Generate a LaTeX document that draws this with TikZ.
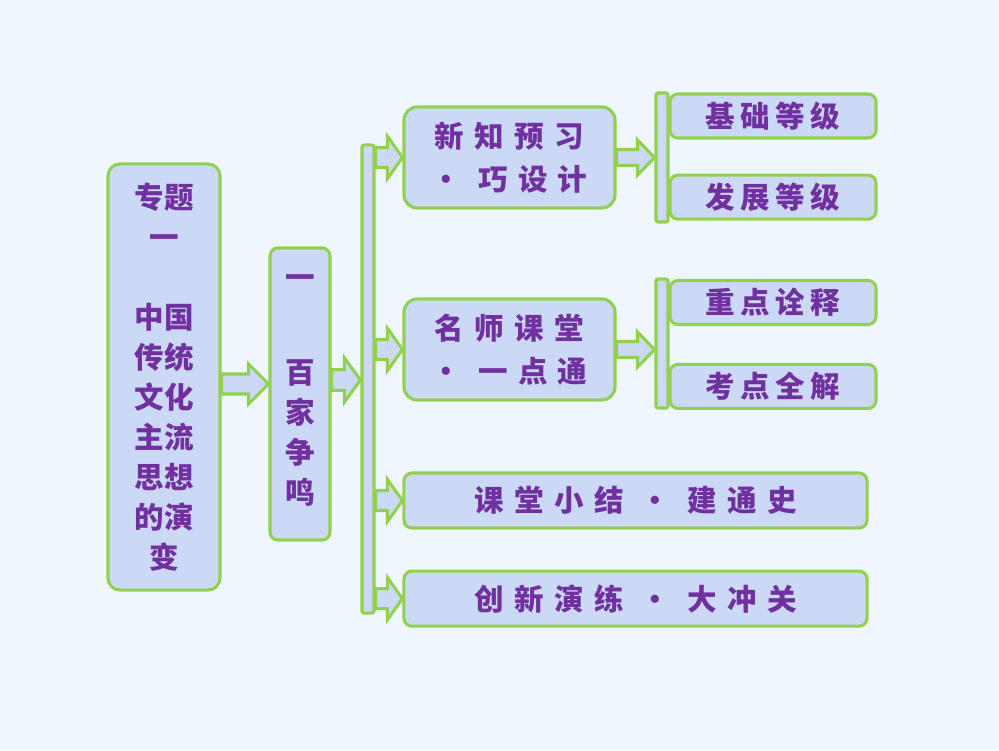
\documentclass[tikz,border=0pt]{standalone}
\usepackage{fontspec}
\newfontfamily\cjk{Noto Sans CJK SC}
\newfontfamily\cjkmid{Noto Sans CJK SC}[LetterSpace=18]
\newfontfamily\cjkwide{Noto Sans CJK SC}[LetterSpace=35]
\usetikzlibrary{positioning,calc}

\definecolor{bgblue}{RGB}{239,246,253}
\definecolor{boxfill}{RGB}{204,217,246}
\definecolor{boxline}{RGB}{146,208,80}
\definecolor{textpurple}{RGB}{112,48,160}

\tikzset{
  panel/.style={draw=boxline, line width=2.2pt, fill=boxfill, rounded corners=0.3cm,
    text=textpurple, align=center, inner sep=0pt,
    font=\cjk\bfseries\fontsize{21}{28.45}\selectfont},
  twoline/.style={panel, rounded corners=0.33cm, minimum width=5.275cm, minimum height=2.525cm,
    font=\cjkwide\bfseries\fontsize{21}{28.45}\selectfont},
  wideline/.style={panel, rounded corners=0.2cm, minimum width=11.575cm, minimum height=1.375cm,
    font=\cjkwide\bfseries\fontsize{21}{28.45}\selectfont},
  leaf/.style={panel, rounded corners=0.2cm, minimum width=5.15cm, minimum height=1.1cm,
    font=\cjkmid\bfseries\fontsize{21}{28.45}\selectfont},
  rail/.style={draw=boxline, line width=2.2pt, fill=boxfill, rounded corners=1.5pt,
    minimum width=0.3cm, inner sep=0pt},
  fatarrow/.style={draw=boxline, line width=2.2pt, fill=boxfill, line join=miter},
}

% block arrow: from, to, shaft half height, head half height, head length
\newcommand{\blockarrow}[5]{%
  \filldraw[fatarrow] let \p1=(#1), \p2=(#2) in
    (\x1,\y1-#3) -- (\x2-#5,\y1-#3) -- (\x2-#5,\y1-#4) -- (\x2,\y1)
    -- (\x2-#5,\y1+#4) -- (\x2-#5,\y1+#3) -- (\x1,\y1+#3) -- cycle;}

\begin{document}
\begin{tikzpicture}[x=0.025cm, y=-0.025cm]
  \fill[bgblue] (0,0) rectangle (999,750);
  \useasboundingbox (0,0) rectangle (999,750);

  \node[panel, minimum width=2.8cm, minimum height=10.65cm] (topic) at (164,377)
    {专题\\一\\[1.0cm]中国\\传统\\文化\\主流\\思想\\的演\\变};
  \node[panel, rounded corners=0.2cm, minimum width=1.5cm, minimum height=7.3cm,
    text depth=0.25cm] (schools) at (300,394)
    {一\\[1.375cm]百\\家\\争\\鸣};
  \node[rail, minimum height=11.7cm] (spine) at (368,379) {};

  \node[twoline] (preview) at (509.5,157.5) {新知预习\\[0.075cm]· 巧设计};
  \node[twoline] (lecture) at (509.5,349.5) {名师课堂\\[0.075cm]· 一点通};
  \node[wideline] (summary) at (635.5,500.5) {课堂小结 · 建通史};
  \node[wideline, below=1.0cm of summary] (practice) {创新演练 · 大冲关};

  \node[rail, minimum height=3.225cm] (railA) at (662,157.5) {};
  \node[rail, minimum height=3.225cm] (railB) at (662,343.5) {};

  \node[leaf] (basic) at (773,116) {基础等级};
  \node[leaf, below=0.85cm of basic] (advanced) {发展等级};
  \node[leaf] (keypoints) at (773,302.5) {重点诠释};
  \node[leaf, below=0.92cm of keypoints] (testpoints) {考点全解};

  \coordinate (row1) at (0,384);
  \coordinate (row2) at (0,380);
  \blockarrow{topic.east |- row1}{schools.west |- row1}{0.25cm}{0.5cm}{0.5cm}
  \blockarrow{schools.east |- row2}{spine.west |- row2}{0.26cm}{0.55cm}{0.4cm}
  \foreach \target in {preview, lecture, summary, practice}{
    \blockarrow{spine.east |- \target.west}{\target.west}{0.25cm}{0.53cm}{0.375cm}
  }
  \blockarrow{preview.east}{railA.west |- preview.east}{0.2cm}{0.44cm}{0.425cm}
  \blockarrow{lecture.east}{railB.west |- lecture.east}{0.2cm}{0.44cm}{0.425cm}
\end{tikzpicture}
\end{document}
